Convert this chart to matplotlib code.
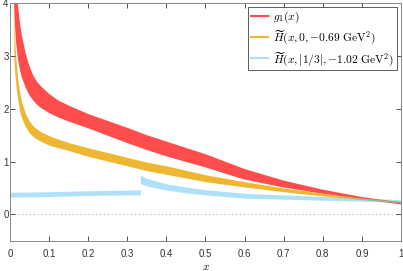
import numpy as np
import matplotlib
matplotlib.use("Agg")
import matplotlib.pyplot as plt

plt.rcParams['mathtext.fontset'] = 'cm'
plt.rcParams['font.family'] = ['Liberation Sans', 'DejaVu Sans']

# g1(x) band
x_g1 = [0.01, 0.0125, 0.015, 0.02, 0.025, 0.03, 0.04, 0.05, 0.06, 0.07, 0.08,
        0.1, 0.125, 0.15, 0.2, 0.25, 0.3, 0.35, 0.4, 0.5, 0.6, 0.7, 0.8,
        0.9, 1.0]
g1_hi = [6.0, 5.2, 4.6, 4.0, 3.65, 3.4, 3.05, 2.8, 2.62, 2.5, 2.42,
         2.28, 2.15, 2.06, 1.9, 1.77, 1.64, 1.5, 1.38, 1.14, 0.86, 0.64, 0.47,
         0.33, 0.23]
g1_lo = [4.0, 3.6, 3.3, 2.95, 2.75, 2.6, 2.4, 2.25, 2.15, 2.07, 2.01,
         1.92, 1.83, 1.76, 1.63, 1.49, 1.35, 1.22, 1.1, 0.89, 0.66, 0.51, 0.39,
         0.29, 0.19]

# H~(x, 0, -0.69 GeV^2) band
x_h0 = [0.01, 0.0125, 0.015, 0.02, 0.025, 0.03, 0.04, 0.05, 0.06, 0.07, 0.08,
        0.1, 0.125, 0.15, 0.2, 0.25, 0.3, 0.35, 0.4, 0.5, 0.6, 0.7, 0.8,
        0.9, 1.0]
h0_hi = [4.3, 3.3, 2.95, 2.55, 2.3, 2.12, 1.9, 1.76, 1.67, 1.61, 1.56,
         1.49, 1.42, 1.36, 1.26, 1.17, 1.08, 0.99, 0.92, 0.75, 0.62, 0.5, 0.4,
         0.31, 0.25]
h0_lo = [2.9, 2.65, 2.45, 2.15, 1.95, 1.82, 1.65, 1.54, 1.47, 1.42, 1.38,
         1.31, 1.26, 1.21, 1.1, 1.01, 0.92, 0.83, 0.76, 0.62, 0.52, 0.43, 0.35,
         0.28, 0.23]

# H~(x, |1/3|, -1.02 GeV^2) band
x_h3 = [0.0, 0.1, 0.2, 0.3, 0.333, 0.3335, 0.35, 0.4, 0.45, 0.5, 0.6, 0.7,
        0.8, 0.9, 1.0]
h3_hi = [0.42, 0.43, 0.45, 0.46, 0.47, 0.75, 0.68, 0.58, 0.52, 0.47, 0.40,
         0.37, 0.34, 0.31, 0.28]
h3_lo = [0.33, 0.34, 0.36, 0.37, 0.37, 0.58, 0.54, 0.46, 0.41, 0.37, 0.31,
         0.29, 0.27, 0.25, 0.23]

labels = [r'$g_1(x)$',
          r'$\widetilde{H}(x, 0, {-}0.69\ \mathrm{GeV}^2)$',
          r'$\widetilde{H}(x, |1/3|, {-}1.02\ \mathrm{GeV}^2)$']
colors = [(1.0, 0.0, 0.0), '#EDB120', (0.3, 0.745, 0.933)]
alphas = [0.7, 0.92, 0.45]

fig = plt.figure(figsize=(4.03, 2.71), dpi=100)
ax = fig.add_axes([0.0248, 0.111, 0.9702, 0.878])

ax.axhline(0, color='#aaaaaa', lw=0.8, ls=(0, (1, 2.5)), zorder=0)

data = [(x_g1, g1_lo, g1_hi), (x_h0, h0_lo, h0_hi), (x_h3, h3_lo, h3_hi)]
handles = []
for (xs, lo, hi), c, a, lab in zip(data, colors, alphas, labels):
    ax.fill_between(xs, lo, hi, color=c, alpha=a, lw=0)
    h, = ax.plot([], [], color=c, alpha=a, lw=1.5, label=lab)
    handles.append(h)

ax.set_xlim(0, 1)
ax.set_ylim(-0.5, 4)
ax.set_xticks(np.arange(0, 1.01, 0.1))
ax.set_xticklabels(['0', '0.1', '0.2', '0.3', '0.4', '0.5', '0.6', '0.7', '0.8', '0.9', '1'])
ax.set_yticks([0, 1, 2, 3, 4])
ax.tick_params(direction='in', top=True, right=True, length=3.5, width=0.6,
               colors='#333333', labelsize=7, pad=6)
ax.tick_params(axis='y', pad=1)
for s in ax.spines.values():
    s.set_color('#888888')
    s.set_linewidth(0.7)
ax.set_xlabel(r'$x$', fontsize=8, labelpad=2)

leg = ax.legend(handles=handles, loc='upper right', fontsize=8.3, frameon=True,
                fancybox=False, edgecolor='#444444', framealpha=1,
                handlelength=1.5, handletextpad=0.4, borderpad=0.25,
                labelspacing=0.3, borderaxespad=0.35)
leg.get_frame().set_linewidth(0.6)

fig.savefig('out.png', dpi=100)
